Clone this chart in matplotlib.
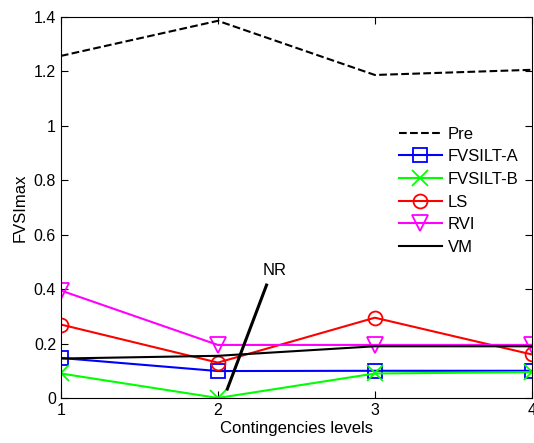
import matplotlib

matplotlib.use("Agg")
import matplotlib.pyplot as plt

plt.rcParams["font.family"] = ["Liberation Sans", "DejaVu Sans"]

levels = [1, 2, 3, 4]
pre = [1.257, 1.386, 1.187, 1.206]
fvsilt_a = [0.147, 0.099, 0.100, 0.100]
fvsilt_b = [0.090, 0.000, 0.090, 0.095]
ls = [0.270, 0.130, 0.295, 0.160]
rvi = [0.395, 0.195, 0.195, 0.195]
vm = [0.145, 0.155, 0.190, 0.190]

fig = plt.figure(figsize=(5.34, 4.43), dpi=100)
ax = fig.add_axes([0.114, 0.1016, 0.882, 0.86])

ax.plot(levels, pre, "k--", linewidth=1.5, label="Pre")
ax.plot(levels, fvsilt_a, color="#0000ff", marker="s", markersize=10, markerfacecolor="none",
        markeredgewidth=1.3, linewidth=1.5, label="FVSILT-A")
ax.plot(levels, fvsilt_b, color="#00ff00", marker="x", markersize=11, markeredgewidth=1.3,
        linewidth=1.5, label="FVSILT-B")
ax.plot(levels, ls, color="#ff0000", marker="o", markersize=10, markerfacecolor="none",
        markeredgewidth=1.3, linewidth=1.5, label="LS")
ax.plot(levels, rvi, color="#ff00ff", marker="v", markersize=11, markerfacecolor="none",
        markeredgewidth=1.3, linewidth=1.5, label="RVI")
ax.plot(levels, vm, color="black", linewidth=1.5, label="VM")

# NR pointer line
ax.plot([2.06, 2.31], [0.033, 0.415], color="black", linewidth=2.2)
ax.text(2.36, 0.44, "NR", fontsize=12, ha="center", va="bottom")

ax.set_xlim(1, 4)
ax.set_ylim(0, 1.4)
ax.set_xticks(levels)
ax.set_yticks([0, 0.2, 0.4, 0.6, 0.8, 1, 1.2, 1.4])
ax.set_yticklabels(["0", "0.2", "0.4", "0.6", "0.8", "1", "1.2", "1.4"])
ax.tick_params(direction="in", top=True, right=True, labelsize=11.5, length=5)
ax.set_xlabel("Contingencies levels", fontsize=12, labelpad=2)
ax.set_ylabel("FVSImax", fontsize=12)

ax.legend(loc="upper left", bbox_to_anchor=(0.703, 0.73), frameon=False, fontsize=12,
          handlelength=2.6, handletextpad=0.35, labelspacing=0.46, borderaxespad=0)

fig.savefig("out.png", dpi=100)
